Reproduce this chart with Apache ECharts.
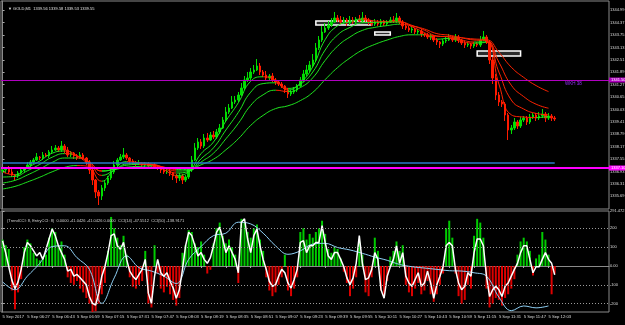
<!DOCTYPE html>
<html><head><meta charset="utf-8">
<script src="https://cdn.jsdelivr.net/npm/echarts@6/dist/echarts.min.js"></script>
<style>html,body{margin:0;padding:0;background:#000;}#c{width:625px;height:325px;}</style>
</head><body><div id="c"></div>
<script>
// ---------- DATA ----------
const startTime = '06:11';
const barMinutes = 2;
const totalSlots = 196;          // visible slots incl. chart shift
const firstOpen = 1336.95;
const closes = [
1337.00,1337.10,1336.90,1336.75,1336.70,1336.85,1337.00,1337.10,1337.25,1337.40,
1337.50,1337.65,1337.60,1337.75,1337.70,1337.90,1338.00,1338.10,1338.00,1338.20,
1338.00,1337.75,1337.85,1337.70,1337.60,1337.75,1337.60,1337.40,1337.00,1336.50,
1335.90,1335.70,1336.10,1336.35,1336.60,1336.90,1337.25,1337.50,1337.65,1337.75,
1337.60,1337.45,1337.35,1337.30,1337.35,1337.25,1337.30,1337.20,1337.25,1337.15,
1337.10,1337.00,1336.90,1336.95,1336.85,1336.70,1336.60,1336.70,1336.50,1336.65,
1337.00,1337.50,1338.10,1338.40,1338.20,1338.60,1338.50,1338.75,1338.65,1338.90,
1339.10,1339.50,1339.90,1340.10,1340.40,1340.50,1340.75,1341.10,1341.50,1341.60,
1341.90,1342.00,1342.20,1341.90,1341.75,1341.60,1341.70,1341.50,1341.40,1341.30,
1341.20,1341.00,1340.80,1340.90,1341.00,1341.20,1341.50,1341.80,1342.00,1342.25,
1342.50,1343.10,1343.50,1343.90,1344.10,1344.25,1344.40,1344.60,1344.50,1344.40,
1344.50,1344.35,1344.50,1344.40,1344.55,1344.45,1344.60,1344.50,1344.40,1344.30,
1344.40,1344.30,1344.45,1344.30,1344.40,1344.50,1344.45,1344.60,1344.40,1344.20,
1344.10,1344.00,1344.05,1343.90,1343.95,1343.80,1343.75,1343.65,1343.70,1343.50,
1343.40,1343.30,1343.45,1343.50,1343.60,1343.50,1343.65,1343.50,1343.35,1343.25,
1343.30,1343.20,1343.30,1343.25,1343.50,1343.65,1343.40,1342.50,1341.60,1340.75,
1340.40,1340.30,1339.75,1339.00,1339.10,1339.40,1339.20,1339.50,1339.60,1339.40,
1339.65,1339.75,1339.60,1339.70,1339.80,1339.60,1339.70,1339.60,1339.55];
const wickUp = [
.1,.05,.1,.15,.05,.1,.1,.05,.15,.1, .1,.2,.05,.15,.1,.1,.2,.15,.1,.25,
.1,.15,.1,.05,.1,.15,.1,.05,.1,.1, .05,.1,.15,.1,.1,.15,.2,.1,.15,.35,
.1,.05,.1,.1,.15,.05,.1,.1,.05,.1, .1,.1,.05,.1,.1,.05,.1,.15,.1,.1,
.15,.2,.25,.2,.15,.2,.25,.15,.2,.15, .2,.15,.25,.2,.3,.2,.15,.25,.2,.3,
.2,.25,.35,.15,.1,.2,.1,.15,.1,.1, .1,.05,.1,.1,.15,.1,.15,.2,.25,.2,
.3,.25,.2,.3,.25,.2,.2,.3,.15,.2, .15,.1,.2,.15,.1,.2,.3,.15,.1,.1,
.15,.1,.1,.05,.1,.15,.2,.25,.1,.1, .15,.1,.1,.05,.1,.1,.05,.1,.1,.05,
.1,.05,.1,.15,.2,.1,.15,.1,.05,.1, .1,.05,.1,.1,.2,.3,.1,.1,.15,.2,
.15,.1,.1,.1,.15,.2,.1,.15,.1,.1, .15,.1,.1,.2,.25,.1,.15,.1,.1];
const wickDn = [
.1,.15,.1,.1,.2,.1,.05,.1,.05,.1, .1,.05,.1,.1,.05,.1,.1,.05,.1,.1,
.15,.1,.1,.15,.1,.05,.1,.15,.2,.25, .3,.45,.2,.15,.1,.1,.1,.1,.05,.1,
.1,.15,.1,.1,.05,.1,.1,.15,.1,.1, .1,.15,.1,.1,.15,.2,.25,.15,.2,.1,
.1,.1,.05,.1,.15,.1,.1,.05,.1,.1, .1,.05,.1,.1,.05,.1,.1,.05,.1,.1,
.1,.1,.05,.15,.1,.1,.1,.1,.15,.1, .1,.15,.2,.1,.1,.1,.05,.1,.1,.1,
.1,.1,.1,.1,.05,.1,.1,.05,.1,.1, .1,.15,.1,.1,.1,.05,.1,.1,.15,.1,
.1,.1,.15,.1,.1,.05,.1,.1,.1,.15, .1,.1,.15,.1,.1,.15,.1,.1,.15,.1,
.15,.2,.1,.1,.05,.1,.1,.15,.1,.15, .1,.15,.1,.1,.1,.05,.1,.2,.3,.25,
.2,.15,.3,.5,.2,.1,.15,.1,.1,.15, .1,.1,.15,.1,.1,.2,.1,.15,.1];
const maStep = 4; // one moving-average sample every 4 slots (8 min)
const maFast = [1336.90,1336.76,1337.11,1337.45,1337.84,1337.95,1337.71,1337.21,1336.44,1337.01,
1337.42,1337.37,1337.29,1337.02,1336.73,1336.92,1337.82,1338.40,1339.45,1340.36,
1341.44,1341.66,1341.48,1341.00,1341.35,1342.16,1343.52,1344.21,1344.41,1344.55,
1344.45,1344.42,1344.41,1344.16,1343.87,1343.54,1343.58,1343.42,1343.34,1343.38,
1341.30,1339.76,1339.65,1339.62,1339.68];
const maMid = [1336.65,1336.68,1336.96,1337.28,1337.64,1337.82,1337.71,1337.36,1336.73,1336.99,
1337.30,1337.32,1337.29,1337.10,1336.85,1336.93,1337.56,1338.11,1339.00,1339.88,
1340.89,1341.32,1341.36,1341.08,1341.29,1341.90,1343.00,1343.75,1344.13,1344.36,
1344.38,1344.39,1344.40,1344.23,1343.99,1343.70,1343.65,1343.50,1343.40,1343.40,
1341.90,1340.50,1340.05,1339.83,1339.76];
const maSlow = [1336.35,1336.48,1336.75,1337.05,1337.38,1337.60,1337.60,1337.39,1336.94,1337.05,
1337.24,1337.28,1337.27,1337.14,1336.95,1336.97,1337.40,1337.84,1338.56,1339.33,
1340.23,1340.76,1340.99,1340.92,1341.12,1341.61,1342.48,1343.19,1343.65,1343.98,
1344.13,1344.22,1344.29,1344.20,1344.05,1343.82,1343.74,1343.61,1343.50,1343.47,
1342.39,1341.24,1340.67,1340.29,1340.09];
const maSlowest = [1336.05,1336.18,1336.40,1336.64,1336.91,1337.13,1337.22,1337.18,1336.96,1337.02,
1337.14,1337.18,1337.20,1337.14,1337.03,1337.03,1337.26,1337.54,1338.01,1338.56,
1339.23,1339.73,1340.07,1340.21,1340.47,1340.88,1341.52,1342.12,1342.60,1343.00,
1343.28,1343.50,1343.68,1343.76,1343.76,1343.69,1343.67,1343.61,1343.55,1343.52,
1342.89,1342.14,1341.63,1341.22,1340.92];
const cciHist = [
140,110,90,-130,-230,-140,-70,100,140,120, 70,40,30,50,60,150,200,180,110,130,
60,-60,-90,-100,-80,-120,-140,-170,-200,-250, -240,-200,-150,-90,80,260,200,150,110,160,
60,-60,-110,-120,-100,-80,80,-200,-220,110, -40,-120,-140,-110,-150,-180,-210,-170,70,110,
190,180,120,100,130,60,-40,-20,120,200, 230,160,120,140,100,60,-90,250,230,180,
150,200,220,140,80,-60,-130,-160,-140,-100, -60,60,-130,-160,-120,-60,180,200,140,170,
150,180,200,240,170,90,70,100,90,40, -30,-90,-160,-120,-60,130,60,-140,-160,-60,
150,80,-130,-160,-80,50,80,130,80,110, -100,-140,-160,-120,-90,-150,-130,-80,-150,-190,
-150,-100,-40,200,240,150,-40,-160,-200,-180, -100,-120,160,250,230,150,-120,-220,-200,-170,
-180,-210,-170,-150,-120,-70,60,130,150,130, 80,-50,40,60,180,140,60,-150,-41];
const cci14 = [
134,71,-4,-75,-120,-84,-18,71,125,107, 80,53,71,35,89,143,196,161,107,71,
35,-27,-18,-54,-45,-63,-81,-100,-162,-198, -207,-144,-54,-4,71,161,170,107,89,125,
35,-27,-54,-72,-45,-18,35,-144,-198,-54, 35,-36,-54,-36,-81,-117,-171,-126,-18,107,
179,161,107,53,71,35,14,44,107,179, 206,143,71,107,71,35,-36,232,250,143,
71,161,196,107,35,-18,-81,-108,-99,-54, -18,-36,-90,-117,-72,-18,125,134,71,107,
107,125,125,214,125,53,35,71,71,35, -4,-63,-99,-63,14,161,14,-72,-63,-18,
71,35,-126,-171,-54,-4,35,107,14,71, -54,-90,-108,-72,-36,-108,-90,-27,-90,-171,
-99,-54,-4,107,125,107,-18,-90,-126,-108, -36,-54,71,143,143,107,-54,-162,-126,-108,
-126,-162,-108,-90,-54,-18,14,71,107,107, 35,-36,-4,-4,35,71,35,14,-47];
const cci50 = [-84,-126,-54,14,103,107,44,-18,-198,-63,
53,-9,-27,-54,-93,35,103,161,174,232,
223,174,107,62,80,116,120,98,85,67,
47,30,8,-4,-11,-18,-25,-27,-36,-54,
-165,-237,-212,-222,-212];
const priceTicks = [1344.99,1344.37,1343.75,1343.13,1342.51,1341.89,1341.27,1340.65,
1340.03,1339.41,1338.79,1338.17,1337.55,1336.93,1336.31,1335.69];
const priceMin = 1335.05, priceMax = 1345.45;
const cciTicks = [291.472, 200, 100, 0, -100, -200];
const cciMin = -244, cciMax = 291.472;
const cciLevels = [200, 100, -100, -200];
const purpleLevel = 1341.50, magentaLevel = 1337.10, blueLevel = 1337.38;
const purpleName = 'WKH 38', purpleNameTime = '12:19';
const zones = [['09:33','10:09',1344.45,1344.25],['10:11','10:21',1343.90,1343.75],['11:17','11:45',1342.95,1342.70]];
const titleText = '\u25BC GOLD,M1  1339.56 1339.58 1339.53 1339.55';
const indText = '(TrendCCI: 8, EntryCCI: 8)  0.0000 -41.0426 -41.0426 0.0000  CCI(14) -47.5512  CCI(50) -138.9171';

// ---------- BUILD ----------
const FONT = "'Liberation Sans', Arial, sans-serif";
const cats = [];
{ const [h, m] = startTime.split(':').map(Number); const t0 = h * 60 + m;
  for (let i = 0; i < totalSlots; i++) { const t = t0 + i * barMinutes;
    cats.push(String(Math.floor(t / 60)).padStart(2, '0') + ':' + String(t % 60).padStart(2, '0')); } }
const ohlc = closes.map((c, i) => { const o = i === 0 ? firstOpen : closes[i - 1];
  return [o, c, +(Math.min(o, c) - wickDn[i]).toFixed(2), +(Math.max(o, c) + wickUp[i]).toFixed(2)]; });
const GREEN = '#1ee61e', RED = '#ff2200';
const mas = [maFast, maMid, maSlow, maSlowest];
function pieces(a) { const p = [];
  for (let s = 1; s < a.length; s++) p.push({ gte: (s - 1) * maStep, lt: s * maStep, color: a[s] >= a[s - 1] ? GREEN : RED });
  p.push({ gte: (a.length - 1) * maStep, color: p[p.length - 1].color }); return p; }
const tag = (v, bg, fg) => ({ show: true, position: 'end', distance: 0, formatter: v.toFixed(2), backgroundColor: bg,
  color: fg, fontSize: 4, fontFamily: FONT, padding: [1, 1, 0, 2] });
const lblStyle = { fontSize: 4, color: '#dcdcdc', fontFamily: FONT };

const option = {
  backgroundColor: '#000', animation: false,
  title: [
    { text: titleText, left: 3, top: 2, textStyle: { fontSize: 4, color: '#e0e0e0', fontWeight: 'normal', fontFamily: FONT } },
    { text: indText, left: 2, top: 214, textStyle: { fontSize: 4, color: '#d0d0d0', fontWeight: 'normal', fontFamily: FONT } }
  ],
  grid: [
    { left: 1, right: 16, top: 1, height: 208, show: true, borderColor: '#8a8a8a', borderWidth: 1, backgroundColor: '#000',
      containLabel: false, outerBoundsMode: 'none' },
    { left: 1, right: 16, top: 211, height: 101, show: true, borderColor: '#8a8a8a', borderWidth: 1, backgroundColor: '#000',
      containLabel: false, outerBoundsMode: 'none' }
  ],
  xAxis: [
    { type: 'category', gridIndex: 0, data: cats, boundaryGap: true, axisLine: { show: false }, axisTick: { show: false }, axisLabel: { show: false }, splitLine: { show: false } },
    { type: 'value', gridIndex: 0, min: -0.5, max: totalSlots - 0.5, show: false },
    { type: 'category', gridIndex: 1, data: cats, boundaryGap: true,
      axisLine: { lineStyle: { color: '#8a8a8a' } },
      axisTick: { show: true, interval: i => i % 8 === 0 && i < closes.length, alignWithLabel: true, length: 2, lineStyle: { color: '#aaa' } },
      axisLabel: Object.assign({ interval: i => i % 8 === 0 && i < closes.length, showMinLabel: true,
        align: 'left', margin: 3, hideOverlap: false,
        formatter: (v, i) => i === 0 ? '5 Sep 2017' : '5 Sep ' + v }, lblStyle, { fontSize: 4.2 }) },
    { type: 'value', gridIndex: 1, min: -0.5, max: totalSlots - 0.5, show: false }
  ],
  yAxis: [
    { type: 'value', gridIndex: 0, position: 'right', min: priceMin, max: priceMax, scale: true,
      axisLine: { show: true, lineStyle: { color: '#8a8a8a' } }, splitLine: { show: false },
      axisTick: { show: true, length: 2, customValues: priceTicks, lineStyle: { color: '#aaa' } },
      axisLabel: Object.assign({ customValues: priceTicks, margin: 1, formatter: v => v.toFixed(2) }, lblStyle) },
    { type: 'value', gridIndex: 1, position: 'right', min: cciMin, max: cciMax,
      axisLine: { show: true, lineStyle: { color: '#8a8a8a' } }, splitLine: { show: false },
      axisTick: { show: true, length: 2, customValues: cciTicks, lineStyle: { color: '#aaa' } },
      axisLabel: Object.assign({ customValues: cciTicks, margin: 1,
        formatter: v => v === 0 ? '0.00' : (Number.isInteger(v) ? String(v) : v.toFixed(3)) }, lblStyle) }
  ],
  visualMap: mas.map((a, i) => ({ type: 'piecewise', show: false, dimension: 0, seriesIndex: i + 1, pieces: pieces(a) })),
  series: [
    { type: 'candlestick', xAxisIndex: 0, yAxisIndex: 0, data: ohlc, barWidth: 2, z: 3,
      itemStyle: { color: '#00dd00', color0: '#ff1a00', borderColor: '#00dd00', borderColor0: '#ff1a00', borderWidth: 1 },
      markLine: { symbol: 'none', silent: true, animation: false, data: [
        { yAxis: purpleLevel, lineStyle: { color: '#b000c0', width: 1, type: 'solid' }, label: tag(purpleLevel, '#b000c0', '#fff') },
        { yAxis: magentaLevel, lineStyle: { color: '#ff00ff', width: 2, type: 'solid' }, label: tag(magentaLevel, '#ff00ff', '#fff') },
        { yAxis: closes[closes.length - 1], lineStyle: { opacity: 0 }, label: tag(closes[closes.length - 1], '#ffffff', '#000') },
        [ { coord: [0, blueLevel], lineStyle: { color: '#2a78c8', width: 1.5, type: 'solid' }, label: { show: false } },
          { coord: [closes.length - 1, blueLevel], lineStyle: { color: '#2a78c8', width: 1.5, type: 'solid' }, label: { show: false } } ]
      ] },
      markPoint: { silent: true, animation: false, symbol: 'rect', symbolSize: 0,
        data: [{ coord: [purpleNameTime, purpleLevel], label: { show: true, position: 'bottom', distance: 1, formatter: purpleName,
          color: '#9b30ff', fontSize: 4.5, fontFamily: FONT } }] },
      markArea: { silent: true, itemStyle: { color: '#2b2b2b', borderColor: '#ffffff', borderWidth: 1.5 },
        data: zones.map(z => [{ xAxis: z[0], yAxis: z[2] }, { xAxis: z[1], yAxis: z[3] }]) } },
    ...mas.map(a => ({ type: 'line', xAxisIndex: 1, yAxisIndex: 0, data: a.map((v, s) => [s * maStep, v]),
      smooth: 0.5, showSymbol: false, symbol: 'none', z: 4, lineStyle: { width: 1 } })),
    { type: 'bar', xAxisIndex: 2, yAxisIndex: 1, barWidth: 2, z: 2,
      data: cciHist.map(v => ({ value: v, itemStyle: { color: v >= 0 ? '#00cc00' : '#dd0000' } })),
      markLine: { symbol: 'none', silent: true, animation: false, label: { show: false },
        lineStyle: { color: '#9a9a9a', type: [1, 2], width: 1 }, data: cciLevels.map(v => ({ yAxis: v })) } },
    { type: 'line', xAxisIndex: 2, yAxisIndex: 1, data: cci14, showSymbol: false, symbol: 'none', z: 4,
      lineStyle: { color: '#ffffff', width: 1.5 } },
    { type: 'line', xAxisIndex: 3, yAxisIndex: 1, data: cci50.map((v, s) => [s * maStep, v]), smooth: 0.4,
      showSymbol: false, symbol: 'none', z: 3, lineStyle: { color: '#8fd0f5', width: 1 } }
  ]
};
const chart = echarts.init(document.getElementById('c'));
chart.setOption(option);
</script></body></html>
